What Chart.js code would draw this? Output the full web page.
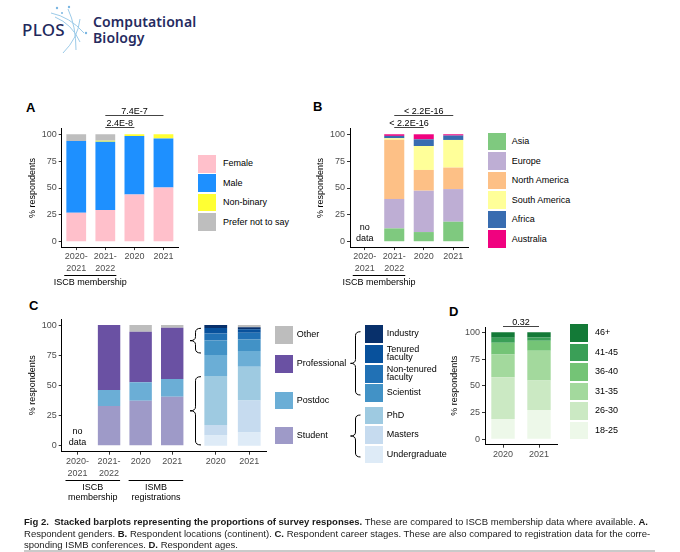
<!DOCTYPE html>
<html><head><meta charset="utf-8">
<title>Fig 2. Stacked barplots</title>
<script src="https://cdn.jsdelivr.net/npm/chart.js@4.4.1/dist/chart.umd.min.js"></script>
<style>
html,body{margin:0;padding:0;background:#fff;}
body{width:680px;height:552px;position:relative;overflow:hidden;font-family:"Liberation Sans",Arial,Helvetica,sans-serif;color:#000;}
.t{position:absolute;white-space:nowrap;line-height:1;}
canvas{position:absolute;}
.bx{position:absolute;}
svg{position:absolute;overflow:visible;}
#cap{position:absolute;left:24px;top:515.8px;font-family:"Liberation Sans",Arial,sans-serif;font-size:9.8px;color:#1a1a1a;white-space:nowrap;line-height:11.7px;transform-origin:0 0;}
</style></head><body>
<script>
// ================= DATA =================
const yTicks = [0, 25, 50, 75, 100];
const yTitle = '% respondents';
const noDataText = ['no', 'data'];

// Panel A - genders
const catsA = [['2020-', '2021'], ['2021-', '2022'], '2020', '2021'];
const genderLabels = ['Female', 'Male', 'Non-binary', 'Prefer not to say'];
const female    = [27.0, 29.5, 44.0, 50.5];
const male      = [66.8, 63.5, 54.5, 45.5];
const nonBinary = [0.0, 1.0, 1.5, 4.0];
const preferNot = [6.2, 6.0, 0.0, 0.0];
const sigA = [{from: 1, to: 3, label: '7.4E-7'}, {from: 1, to: 2, label: '2.4E-8'}];

// Panel B - continents
const catsB = [['2020-', '2021'], ['2021-', '2022'], '2020', '2021'];
const continentLabels = ['Asia', 'Europe', 'North America', 'South America', 'Africa', 'Australia'];
const asia         = [null, 12.4, 9.0, 18.6];
const europe       = [null, 27.4, 38.5, 30.4];
const northAmerica = [null, 55.0, 19.3, 20.0];
const southAmerica = [null, 1.5, 22.3, 25.7];
const africa       = [null, 2.2, 6.2, 4.1];
const australia    = [null, 1.5, 4.7, 1.2];
const sigB = [{from: 1, to: 3, label: '< 2.2E-16'}, {from: 1, to: 2, label: '< 2.2E-16'}];

// Panel C - career stages (survey vs ISCB membership)
const catsC1 = [['2020-', '2021'], ['2021-', '2022'], '2020', '2021'];
const careerLabels = ['Other', 'Professional', 'Postdoc', 'Student'];
const student      = [null, 32.9, 37.3, 40.6];
const postdoc      = [null, 13.2, 15.2, 14.6];
const professional = [null, 53.9, 42.0, 42.6];
const other        = [null, 0.0, 5.5, 2.2];

// Panel C - ISMB registrations
const catsC2 = ['2020', '2021'];
const regLabels = ['Industry', 'Tenured\nfaculty', 'Non-tenured\nfaculty', 'Scientist', 'PhD', 'Masters', 'Undergraduate'];
const regUndergrad  = [8.5, 11.0];
const regMasters    = [8.6, 26.5];
const regPhD        = [40.6, 28.0];
const regPostdoc    = [17.4, 13.0];
const regScientist  = [12.0, 9.5];
const regNonTenured = [5.8, 5.5];
const regTenured    = [4.7, 3.0];
const regIndustry   = [2.4, 1.7];
const regOther      = [0.0, 1.8];

// Panel D - ages
const catsD = ['2020', '2021'];
const ageLabels = ['46+', '41-45', '36-40', '31-35', '26-30', '18-25'];
const age18_25 = [19.0, 27.5];
const age26_30 = [39.0, 27.5];
const age31_35 = [21.4, 27.7];
const age36_40 = [10.9, 9.5];
const age41_45 = [4.7, 3.0];
const age46p   = [5.0, 4.8];
const sigD = [{from: 0, to: 1, label: '0.32'}];

const groupsAB = [{from: 0, to: 1, text: ['ISCB membership']}];
const groupsC = [{from: 0, to: 1, text: ['ISCB', 'membership']}, {from: 2, to: 3, text: ['ISMB', 'registrations']}];

// ================= STYLE =================
const colGender = ['#ffc0cb', '#1e90ff', '#ffff33', '#bebebe'];
const colCont = ['#7fc97f', '#beaed4', '#fdc086', '#ffff99', '#386cb0', '#f0027f'];
const colCareer = ['#bdbdbd', '#6a51a3', '#6baed6', '#9e9ac8'];
const colReg = ['#08306b', '#08519c', '#2171b5', '#4292c6', '#9ecae1', '#c6dbef', '#deebf7'];
const colAge = ['#137a37', '#3a9f57', '#74c476', '#a3d99d', '#cbe9c3', '#edf8e9'];
const FONT = '"Liberation Sans", Arial, Helvetica, sans-serif';

Chart.defaults.font.family = FONT;
Chart.defaults.font.size = 9;
Chart.defaults.color = '#000';

function align(p) { return Math.round(p + 0.5) - 0.5; }

function bracePath(ctxOrNull, xt, xa, y1, y2) {
  const xm = (xt + xa) / 2, ym = (y1 + y2) / 2, r = Math.min(4, (y2 - y1) / 4);
  return `M ${xa} ${y1} Q ${xm} ${y1} ${xm} ${y1 + r} L ${xm} ${ym - r} Q ${xm} ${ym} ${xt} ${ym} Q ${xm} ${ym} ${xm} ${ym + r} L ${xm} ${y2 - r} Q ${xm} ${y2} ${xa} ${y2}`;
}

const annot = {
  id: 'annot',
  afterDraw(chart, _a, o) {
    const {ctx, chartArea: ca} = chart;
    const x = chart.scales.x, y = chart.scales.y;
    ctx.save();
    ctx.font = '9px ' + FONT;
    ctx.textAlign = 'center';
    ctx.lineWidth = 1;
    (o.sig || []).forEach((s, i) => {
      const x1 = x.getPixelForValue(s.from), x2 = x.getPixelForValue(s.to);
      const yy = align(ca.top + o.sigDy[i]);
      ctx.strokeStyle = '#444';
      ctx.beginPath(); ctx.moveTo(x1, yy); ctx.lineTo(x2, yy); ctx.stroke();
      ctx.fillStyle = '#000'; ctx.textBaseline = 'alphabetic';
      ctx.fillText(s.label, (x1 + x2) / 2, yy - 1.5);
    });
    (o.noData || []).forEach(i => {
      const cx = x.getPixelForValue(i);
      ctx.fillStyle = '#000'; ctx.textBaseline = 'middle';
      ctx.fillText(noDataText[0], cx, ca.bottom - 20);
      ctx.fillText(noDataText[1], cx, ca.bottom - 9);
    });
    (o.groups || []).forEach(gr => {
      const xa = x.getPixelForValue(gr.from) - 12, xb = x.getPixelForValue(gr.to) + 11;
      const yy = align(ca.bottom + o.groupDy);
      ctx.strokeStyle = '#000';
      ctx.beginPath(); ctx.moveTo(xa, yy); ctx.lineTo(xb, yy); ctx.stroke();
      ctx.fillStyle = '#000'; ctx.textBaseline = 'middle';
      gr.text.forEach((tx, k) => ctx.fillText(tx, (xa + xb) / 2, yy + o.groupText + k * 10.7));
    });
    (o.braces || []).forEach(b => {
      const y1 = y.getPixelForValue(b.to), y2 = y.getPixelForValue(b.from);
      ctx.strokeStyle = '#000';
      ctx.stroke(new Path2D(bracePath(null, ca.left - 9, ca.left + 2, y1, y2)));
    });
    if (o.leadLine) {
      const yy = align(ca.bottom);
      ctx.strokeStyle = '#000';
      ctx.beginPath(); ctx.moveTo(ca.left - o.leadLine, yy); ctx.lineTo(ca.left, yy); ctx.stroke();
    }
    ctx.restore();
  }
};

function yScale(g, show) {
  return {
    stacked: true, min: -5, max: 105, display: show,
    afterBuildTicks: s => { s.ticks = yTicks.map(v => ({value: v})); },
    afterFit: s => { s.width = g.yw; },
    grid: {display: true, drawOnChartArea: false, drawTicks: true, tickLength: 3, color: '#333', lineWidth: 1},
    border: {display: true, color: '#000', width: 1},
    ticks: {color: '#4d4d4d', padding: 2, font: {size: 9}},
    title: {display: true, text: yTitle, color: '#000', padding: {top: 0, bottom: 0}, font: {size: 9}}
  };
}
function xScale(g) {
  return {
    stacked: true, offset: true,
    afterFit: s => { s.height = g.xh; },
    grid: {display: true, offset: false, drawOnChartArea: false, drawTicks: true, tickLength: 3, color: '#333', lineWidth: 1},
    border: {display: true, color: '#000', width: 1},
    ticks: {color: '#4d4d4d', padding: 1, maxRotation: 0, minRotation: 0, autoSkip: false, font: {size: 9, lineHeight: 1.3}}
  };
}
function mk(g, labels, series, annotOpts, showY) {
  const c = document.createElement('canvas');
  c.width = g.w; c.height = g.h;
  c.style.left = g.l + 'px'; c.style.top = g.t + 'px';
  c.style.width = g.w + 'px'; c.style.height = g.h + 'px';
  document.body.appendChild(c);
  return new Chart(c, {
    type: 'bar',
    data: {labels, datasets: series.map(d => ({label: d[0], data: d[1], backgroundColor: d[2], borderWidth: 0,
      barPercentage: g.bp, categoryPercentage: 1}))},
    options: {
      responsive: false, animation: false, events: [],
      layout: {padding: {left: g.pl || 0, right: g.pr, top: g.pt, bottom: g.pb}},
      plugins: {legend: {display: false}, tooltip: {enabled: false}, annot: annotOpts},
      scales: {x: xScale(g), y: yScale(g, showY)}
    },
    plugins: [annot]
  });
}

function text(left, baseline, size, html, extra) {
  const d = document.createElement('div'); d.className = 't';
  d.style.left = left + 'px'; d.style.top = (baseline - 0.8465 * size) + 'px';
  d.style.fontSize = size + 'px';
  if (extra) d.style.cssText += extra;
  d.innerHTML = html;
  document.body.appendChild(d);
  return d;
}
function legend(labels, colors, boxX, tops, textX) {
  const bh = 17.7;
  labels.forEach((lab, i) => {
    const b = document.createElement('div'); b.className = 'bx';
    b.style.cssText = `left:${boxX}px;top:${tops[i]}px;width:18px;height:${bh}px;background:${colors[i]}`;
    document.body.appendChild(b);
    const lines = lab.split('\n');
    const lh = lines.length > 1 ? 8 : 10;
    const t = document.createElement('div'); t.className = 't';
    t.style.cssText = `left:${textX}px;top:${tops[i] + bh / 2 - lines.length * lh / 2 - 0.5}px;font-size:9px;line-height:${lh}px`;
    t.innerHTML = lines.join('<br>');
    document.body.appendChild(t);
  });
}
function steps(start, step, n) { return Array.from({length: n}, (_, i) => start + i * step); }

// ================= HEADER =================
document.body.insertAdjacentHTML('beforeend', `
<svg style="left:0;top:0" width="100" height="60">
  <g fill="none" stroke="#9ccbe9" stroke-width="1">
    <path d="M51 13 Q70 17 84 33"/>
    <path d="M55 17 Q72 24 80 42"/>
    <path d="M68 9 Q76 26 76 50"/>
    <path d="M80 19 Q78 38 63 53"/>
  </g>
  <g fill="#7ab6e2">
    <circle cx="57" cy="8" r="1.2"/><circle cx="69" cy="7" r="1.2"/><circle cx="62" cy="13" r="1"/><circle cx="86" cy="33" r="1.2"/>
  </g>
</svg>`);
text(22, 35, 17, 'PLOS', 'font-family:"Noto Sans",sans-serif;font-weight:500;color:#1f2a5c;letter-spacing:0.3px');
text(93, 27.3, 14, 'Computational', 'font-family:"Noto Sans",sans-serif;font-weight:600;color:#262b5f;letter-spacing:0.1px');
text(93, 43.3, 14, 'Biology', 'font-family:"Noto Sans",sans-serif;font-weight:600;color:#262b5f;letter-spacing:0.1px');

// ================= PANEL LABELS =================
text(26, 111.7, 13, 'A', 'font-weight:bold');
text(313, 110.7, 13, 'B', 'font-weight:bold');
text(29, 310.5, 13, 'C', 'font-weight:bold');
text(449, 316, 13, 'D', 'font-weight:bold');

// ================= PANEL A =================
mk({l: 27, t: 100, w: 154, h: 192, yw: 34.7, pr: 3, pt: 28.9, pb: 19.9, xh: 25, bp: 0.68}, catsA, [
  [genderLabels[0], female, colGender[0]],
  [genderLabels[1], male, colGender[1]],
  [genderLabels[2], nonBinary, colGender[2]],
  [genderLabels[3], preferNot, colGender[3]]
], {sig: sigA, sigDy: [-13.2, -1.2], groups: groupsAB, groupDy: 27.9, groupText: 7.3}, true);
legend(genderLabels, colGender, 198, steps(155, 19.4, 4), 223);

// ================= PANEL B =================
mk({l: 315, t: 100, w: 156, h: 192, yw: 35, pr: 3, pt: 28.9, pb: 19.9, xh: 25, bp: 0.68}, catsB, [
  [continentLabels[0], asia, colCont[0]],
  [continentLabels[1], europe, colCont[1]],
  [continentLabels[2], northAmerica, colCont[2]],
  [continentLabels[3], southAmerica, colCont[3]],
  [continentLabels[4], africa, colCont[4]],
  [continentLabels[5], australia, colCont[5]]
], {sig: sigB, sigDy: [-13.2, -1.2], noData: [0], groups: groupsAB, groupDy: 27.9, groupText: 7.3}, true);
legend(continentLabels, colCont, 487.7, steps(132.7, 19.52, 6), 511.7);

// ================= PANEL C =================
mk({l: 27, t: 305, w: 163, h: 200, yw: 34.7, pr: 2, pt: 14, pb: 27.3, xh: 26, bp: 0.71}, catsC1, [
  [careerLabels[3], student, colCareer[3]],
  [careerLabels[2], postdoc, colCareer[2]],
  [careerLabels[1], professional, colCareer[1]],
  [careerLabels[0], other, colCareer[0]]
], {noData: [0], groups: groupsC, groupDy: 29, groupText: 6.6}, true);
mk({l: 185, t: 305, w: 84, h: 200, yw: 0, pl: 14, pr: 3, pt: 14, pb: 27.3, xh: 26, bp: 0.68}, catsC2, [
  [regLabels[6], regUndergrad, colReg[6]],
  [regLabels[5], regMasters, colReg[5]],
  [regLabels[4], regPhD, colReg[4]],
  [careerLabels[2], regPostdoc, colCareer[2]],
  [regLabels[3], regScientist, colReg[3]],
  [regLabels[2], regNonTenured, colReg[2]],
  [regLabels[1], regTenured, colReg[1]],
  [regLabels[0], regIndustry, colReg[0]],
  [careerLabels[0], regOther, colCareer[0]]
], {braces: [{from: 76.8, to: 97.3}, {from: 0.6, to: 57.2}], leadLine: 11}, false);
legend(careerLabels, colCareer, 275, [326, 355, 391.7, 426.7], 296.7);
legend(regLabels, colReg, 365, [325, 345, 365, 384, 406.7, 426, 445.7], 386.7);
document.body.insertAdjacentHTML('beforeend', `
<svg style="left:0;top:0" width="680" height="552"><g fill="none" stroke="#000" stroke-width="1">
<path d="${bracePath(null, 350.5, 360.5, 331.7, 395)}"/>
<path d="${bracePath(null, 350.5, 360.5, 415, 457)}"/>
</g></svg>`);

// ================= PANEL D =================
mk({l: 449, t: 300, w: 111, h: 163, yw: 36, pr: 3, pt: 27, pb: 2.3, xh: 16, bp: 0.65}, catsD, [
  [ageLabels[5], age18_25, colAge[5]],
  [ageLabels[4], age26_30, colAge[4]],
  [ageLabels[3], age31_35, colAge[3]],
  [ageLabels[2], age36_40, colAge[2]],
  [ageLabels[1], age41_45, colAge[1]],
  [ageLabels[0], age46p, colAge[0]]
], {sig: sigD, sigDy: [-0.3]}, true);
legend(ageLabels, colAge, 570, steps(324, 19.5, 6), 595);

// ================= CAPTION =================
document.body.insertAdjacentHTML('beforeend', `<div id="cap"><span id="cap1"><b>Fig 2.&nbsp; Stacked barplots representing the proportions of survey responses.</b> These are compared to ISCB membership data where available. <b>A.</b></span><br>Respondent genders. <b>B.</b> Respondent locations (continent). <b>C.</b> Respondent career stages. These are also compared to registration data for the corre-<br>sponding ISMB conferences. <b>D.</b> Respondent ages.</div>
<div style="position:absolute;left:24px;top:549.5px;width:631px;height:2.5px;background:#cacaca"></div>`);
(function fitCaption() {
  const w = document.getElementById('cap1').getBoundingClientRect().width;
  document.getElementById('cap').style.transform = `scaleX(${(624 / w).toFixed(4)})`;
})();
</script>
</body></html>
